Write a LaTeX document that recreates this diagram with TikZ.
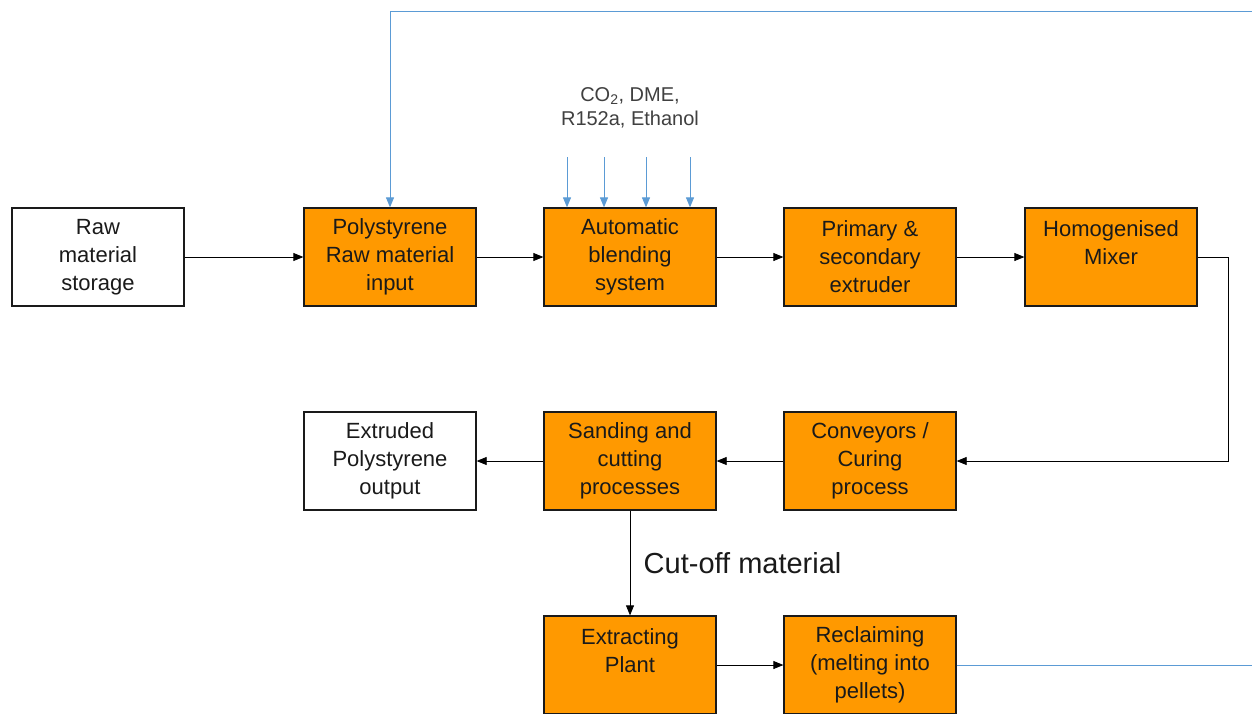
\documentclass[tikz,border=0pt]{standalone}
\usepackage{fontspec}
\setmainfont{Liberation Sans}
\usetikzlibrary{arrows.meta}
\definecolor{boxorange}{HTML}{FF9900}
\definecolor{flowblue}{HTML}{5B9BD5}
\definecolor{txt}{HTML}{1A1A1A}
\definecolor{graytxt}{HTML}{404040}
\begin{document}
\begin{tikzpicture}[x=1pt,y=-1pt,
  procbox/.style={draw=txt, line width=1.3pt, minimum width=172pt, minimum height=98pt,
    inner sep=0pt, align=center, font=\fontsize{22}{28}\selectfont, text=txt},
  orangebox/.style={procbox, fill=boxorange},
  whitebox/.style={procbox, fill=white},
  flow/.style={draw=black, line width=0.8pt, -{Triangle[length=10pt,width=8pt]}},
  recycle/.style={draw=flowblue, line width=1pt, -{Triangle[length=10pt,width=8pt]}},
  gas/.style={draw=flowblue, line width=1pt, -{Triangle[length=10pt,width=8pt]}}
]
\useasboundingbox (0,0) rectangle (1252,713);
\fill[white] (0,0) rectangle (1252,713);

% row 1
\node[whitebox]  (raw)   at (98,257)   {Raw\\material\\storage};
\node[orangebox] (poly)  at (390,257)  {Polystyrene\\Raw material\\input};
\node[orangebox] (blend) at (630,257)  {Automatic\\blending\\system};
\node[orangebox] (extr)  at (870,257)  {Primary \&\\secondary\\extruder};
\node[orangebox] (mix)   at (1111,257) {Homogenised\\Mixer\\~};
% row 2
\node[whitebox]  (out)   at (390,461)  {Extruded\\Polystyrene\\output};
\node[orangebox] (sand)  at (630,461)  {Sanding and\\cutting\\processes};
\node[orangebox] (conv)  at (870,461)  {Conveyors /\\Curing\\process};
% row 3
\node[orangebox] (plant) at (630,665)  {Extracting\\Plant\\~};
\node[orangebox] (recl)  at (870,665)  {Reclaiming\\(melting into\\pellets)};

% gas label and inputs
\node[align=center, text=graytxt, font=\fontsize{20}{24}\selectfont] (gaslbl) at (630,108)
  {CO\textsubscript{2}, DME,\\R152a, Ethanol};
\foreach \gx [count=\i] in {567,604,646,690} {
  \coordinate (g\i) at (\gx,157);
  \draw[gas] (g\i) -- (g\i |- blend.north);
}

% main flow
\draw[flow] (raw) -- (poly);
\draw[flow] (poly) -- (blend);
\draw[flow] (blend) -- (extr);
\draw[flow] (extr) -- (mix);
\draw[flow] (mix.east) -- ++(31,0) |- (conv.east);
\draw[flow] (conv) -- (sand);
\draw[flow] (sand) -- (out);
\draw[flow] (sand) -- node[right, xshift=10pt, text=txt, font=\fontsize{29}{32}\selectfont] (cutlbl) {Cut-off material} (plant);
\draw[flow] (plant) -- (recl);

% recycle loop (leaves the frame on the right)
\coordinate (loopR) at (1262,665);
\coordinate (loopT) at (1262,11);
\draw[recycle] (recl.east) -- (loopR) -- (loopT) -- (poly.north |- loopT) -- (poly.north);
\end{tikzpicture}
\end{document}
